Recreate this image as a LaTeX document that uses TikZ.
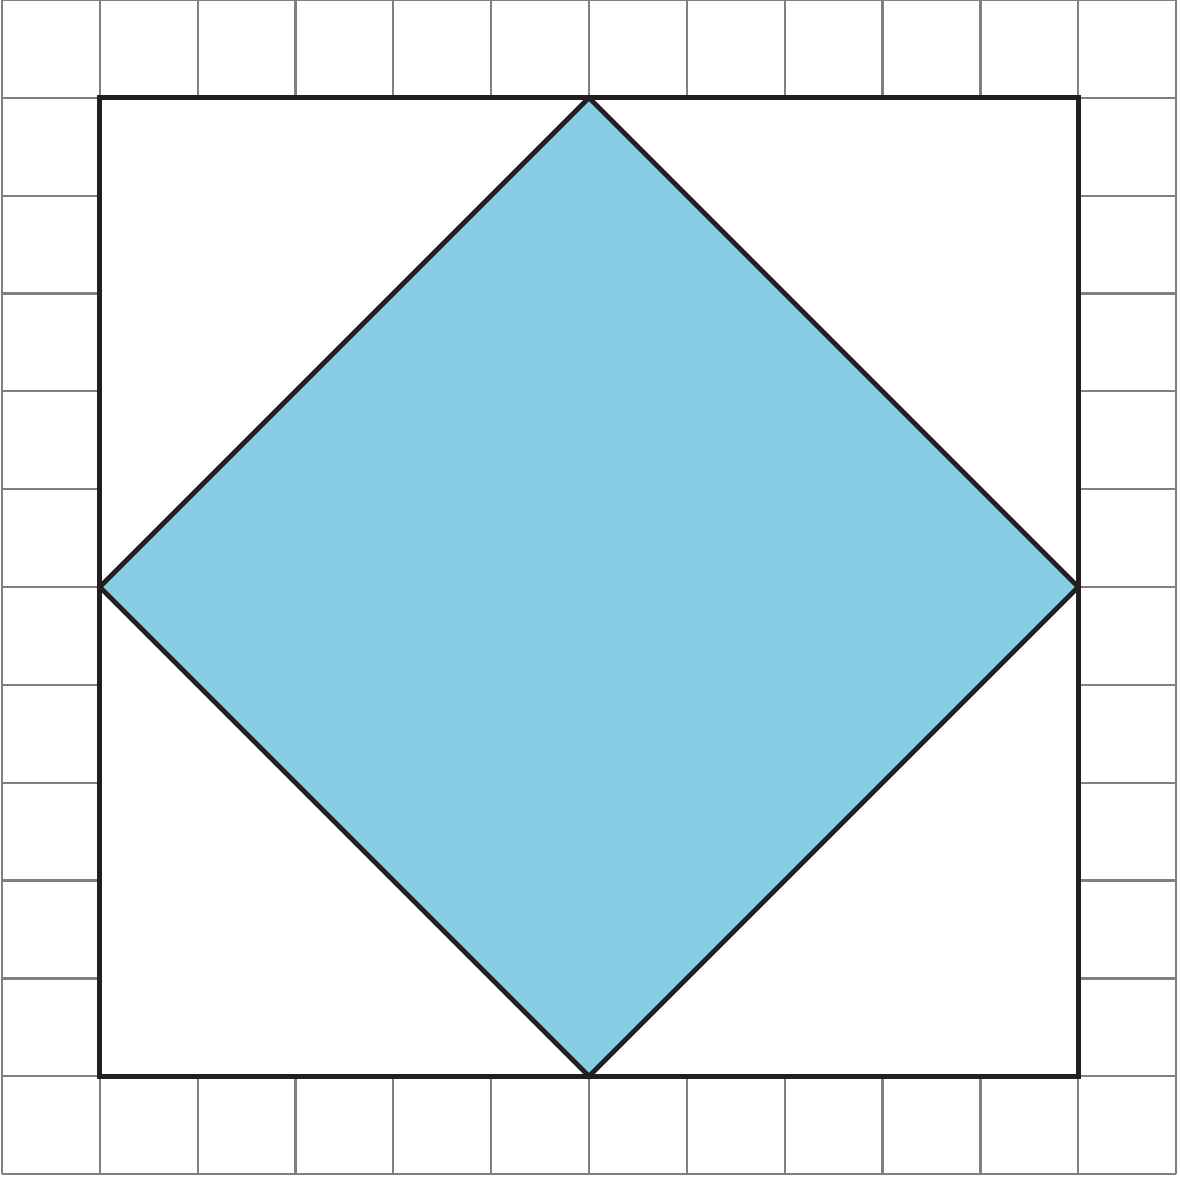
\documentclass[tikz,border=0pt]{standalone}
\definecolor{gridgray}{HTML}{808080}
\definecolor{inkblack}{HTML}{231F20}
\definecolor{diamondblue}{HTML}{85CDE5}
\tikzset{
  gridline/.style={draw=gridgray, line width=0.65pt},
  frameline/.style={draw=inkblack, line width=1.4pt, line join=miter},
  diamondshape/.style={fill=diamondblue, draw=inkblack, line width=1.4pt, line join=miter}
}
\begin{document}
\begin{tikzpicture}
\useasboundingbox (-0.02,-0.02) rectangle (12.04,12.0);
\draw[gridline] (0,0) grid (12,12);
\fill[white] (1,1) rectangle (11,11);
\coordinate (T) at (6,11);
\coordinate (R) at (11,6);
\coordinate (B) at (6,1);
\coordinate (L) at (1,6);
\draw[frameline] (1,1) rectangle (11,11);
\path[diamondshape] (T) -- (R) -- (B) -- (L) -- cycle;
\end{tikzpicture}
\end{document}
